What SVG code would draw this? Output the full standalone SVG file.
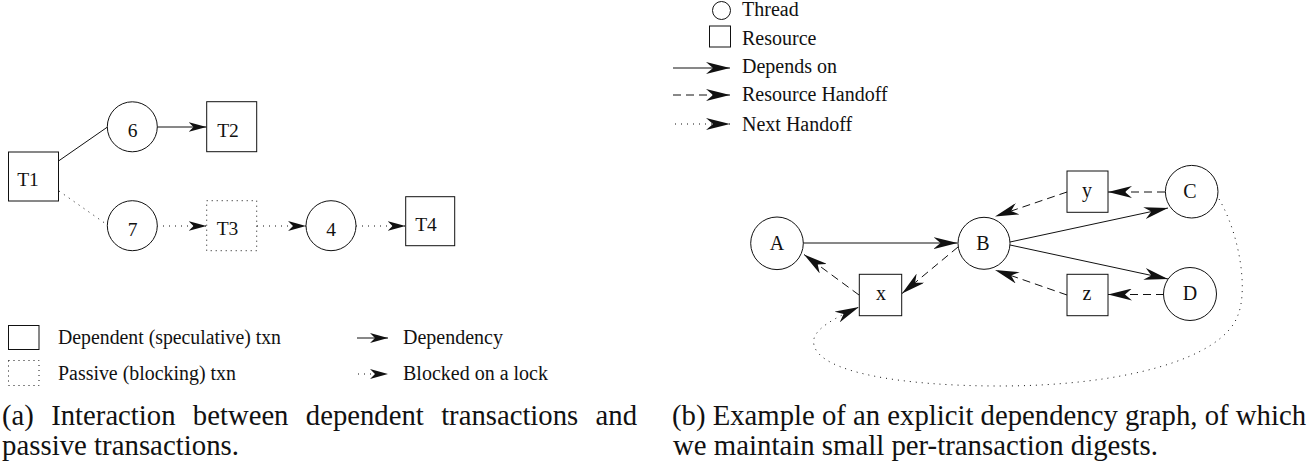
<svg xmlns="http://www.w3.org/2000/svg" width="1313" height="471" viewBox="0 0 1313 471" font-family="'Liberation Serif', Tinos, 'Times New Roman', Times, serif">
<style>
  text { font-family: 'Liberation Serif', Tinos, 'Times New Roman', Times, serif; fill: #111; }
  .lbl { font-size: 19.5px; text-anchor: middle; }
  .lblb { font-size: 20px; text-anchor: middle; }
  .leg { font-size: 20px; }
  .cap { font-size: 28.7px; }
  .shape { fill: #fff; stroke: #111; stroke-width: 1; }
  .ln { fill: none; stroke: #111; stroke-width: 1; }
  .dash { stroke-dasharray: 8 5; }
  .dot { stroke-dasharray: 1 5; }
  .dotbox { stroke-dasharray: 1 4; }
</style>
<defs>
  <marker id="ha" viewBox="-18 -5 18 10" refX="0" refY="0" markerWidth="18" markerHeight="10" markerUnits="userSpaceOnUse" orient="auto">
    <path d="M0,0 L-18,-5 L-13,0 L-18,5 Z" fill="#111"/>
  </marker>
  <marker id="hb" viewBox="-24 -6 24 12" refX="0" refY="0" markerWidth="24" markerHeight="12" markerUnits="userSpaceOnUse" orient="auto">
    <path d="M0,0 L-24,-6 L-17,0 L-24,6 Z" fill="#111"/>
  </marker>
</defs>

<!-- ===== Figure (a) ===== -->
<g id="a-connectors">
  <line class="ln" x1="58.5" y1="161" x2="107.5" y2="127"/>
  <line class="ln" x1="157" y1="127" x2="206.5" y2="127" marker-end="url(#ha)"/>
  <line class="ln dot" x1="59" y1="191" x2="107.5" y2="225"/>
  <line class="ln dot" x1="157" y1="226" x2="206.5" y2="226" marker-end="url(#ha)"/>
  <line class="ln dot" x1="257" y1="226" x2="306" y2="226" marker-end="url(#ha)"/>
  <line class="ln dot" x1="356" y1="226" x2="405.5" y2="226" marker-end="url(#ha)"/>
</g>
<g id="a-T1"><rect class="shape" x="8.5" y="152" width="50" height="49"/><text class="lbl" x="28" y="186">T1</text></g>
<g id="a-6"><circle class="shape" cx="132.3" cy="126.8" r="25"/><text class="lbl" x="132.5" y="137">6</text></g>
<g id="a-T2"><rect class="shape" x="206.7" y="101.7" width="50" height="50"/><text class="lbl" x="228" y="137">T2</text></g>
<g id="a-7"><circle class="shape" cx="132.3" cy="225.7" r="25"/><text class="lbl" x="132.5" y="236">7</text></g>
<g id="a-T3"><rect class="shape dotbox" x="206.7" y="200.7" width="50" height="50"/><text class="lbl" x="227.5" y="235">T3</text></g>
<g id="a-4"><circle class="shape" cx="331" cy="225.7" r="25"/><text class="lbl" x="331" y="236">4</text></g>
<g id="a-T4"><rect class="shape" x="405.7" y="196.7" width="49" height="49"/><text class="lbl" x="426" y="231">T4</text></g>

<!-- Legend (a) -->
<g id="a-legend">
  <rect class="shape" x="8.5" y="325.5" width="30.5" height="24"/>
  <rect class="shape dotbox" x="8.5" y="360.5" width="30.5" height="25"/>
  <text class="leg" x="58" y="344" textLength="223" lengthAdjust="spacingAndGlyphs">Dependent (speculative) txn</text>
  <text class="leg" x="58" y="380" textLength="178" lengthAdjust="spacingAndGlyphs">Passive (blocking) txn</text>
  <line class="ln" x1="357" y1="338" x2="388" y2="338" marker-end="url(#ha)"/>
  <line class="ln dot" x1="358" y1="374" x2="388" y2="374" marker-end="url(#ha)"/>
  <text class="leg" x="403" y="344" textLength="100" lengthAdjust="spacingAndGlyphs">Dependency</text>
  <text class="leg" x="403" y="380" textLength="145" lengthAdjust="spacingAndGlyphs">Blocked on a lock</text>
</g>

<!-- ===== Figure (b) ===== -->
<g id="b-legend">
  <circle class="shape" cx="721.5" cy="10.5" r="9"/>
  <text class="leg" x="742" y="16">Thread</text>
  <rect class="shape" x="709.5" y="26" width="21" height="21"/>
  <text class="leg" x="742" y="45">Resource</text>
  <line class="ln" x1="673" y1="68" x2="730" y2="68" marker-end="url(#hb)"/>
  <text class="leg" x="742" y="73">Depends on</text>
  <line class="ln dash" x1="673" y1="95" x2="730" y2="95" marker-end="url(#hb)"/>
  <text class="leg" x="742" y="101">Resource Handoff</text>
  <line class="ln dot" x1="675" y1="124" x2="730" y2="124" marker-end="url(#hb)"/>
  <text class="leg" x="742" y="131">Next Handoff</text>
</g>

<g id="b-connectors">
  <line class="ln" x1="803" y1="243" x2="957.5" y2="243" marker-end="url(#hb)"/>
  <line class="ln" x1="1010" y1="242" x2="1168" y2="208" marker-end="url(#hb)"/>
  <line class="ln" x1="1010" y1="245" x2="1168" y2="279" marker-end="url(#hb)"/>
  <line class="ln dash" x1="1165" y1="192" x2="1108" y2="192" marker-end="url(#hb)"/>
  <line class="ln dash" x1="1164" y1="294.5" x2="1108" y2="294.5" marker-end="url(#hb)"/>
  <line class="ln dash" x1="1067" y1="192" x2="995" y2="216.5" marker-end="url(#hb)"/>
  <line class="ln dash" x1="1067" y1="295" x2="995" y2="270" marker-end="url(#hb)"/>
  <line class="ln dash" x1="958" y1="247" x2="902" y2="293.5" marker-end="url(#hb)"/>
  <line class="ln dash" x1="859" y1="295" x2="804" y2="254.5" marker-end="url(#hb)"/>
  <path class="ln dot" d="M1219,199 C1240,235 1248,290 1238,315 C1222,360 1120,386 1000,386 C900,386 820,372 814,345 C810,330 835,318 859,307" marker-end="url(#hb)"/>
</g>
<g id="b-A"><circle class="shape" cx="777" cy="243.3" r="26.3"/><text class="lblb" x="777" y="249.5">A</text></g>
<g id="b-B"><circle class="shape" cx="984" cy="243.3" r="26"/><text class="lblb" x="983" y="249.5">B</text></g>
<g id="b-x"><rect class="shape" x="859.3" y="274.3" width="42.4" height="41.4"/><text class="lblb" x="881" y="300">x</text></g>
<g id="b-y"><rect class="shape" x="1067" y="171" width="41" height="41.3"/><text class="lblb" x="1087" y="197">y</text></g>
<g id="b-C"><circle class="shape" cx="1191.7" cy="191.7" r="26.3"/><text class="lblb" x="1190" y="197.5">C</text></g>
<g id="b-z"><rect class="shape" x="1067" y="274.3" width="41" height="41.4"/><text class="lblb" x="1087" y="300">z</text></g>
<g id="b-D"><circle class="shape" cx="1190" cy="294" r="26.5"/><text class="lblb" x="1190" y="300">D</text></g>

<!-- Captions -->
<g id="captions">
  <text class="cap" x="2" y="425" word-spacing="10.2" textLength="635" lengthAdjust="spacingAndGlyphs">(a) Interaction between dependent transactions and</text>
  <text class="cap" x="2" y="455" textLength="237" lengthAdjust="spacingAndGlyphs">passive transactions.</text>
  <text class="cap" x="672" y="425" textLength="634" lengthAdjust="spacingAndGlyphs">(b) Example of an explicit dependency graph, of which</text>
  <text class="cap" x="673" y="455" textLength="485" lengthAdjust="spacingAndGlyphs">we maintain small per-transaction digests.</text>
</g>
</svg>
